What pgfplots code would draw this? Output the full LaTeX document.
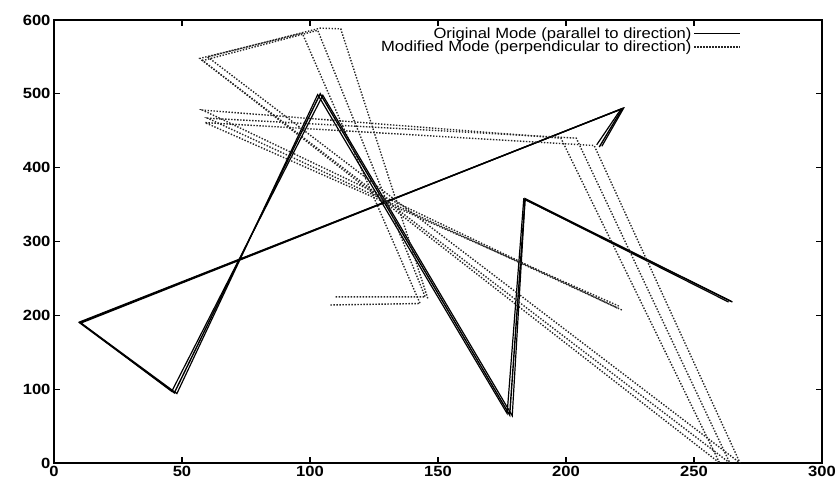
\documentclass[border=0pt]{standalone}
\usepackage{pgfplots}
\pgfplotsset{compat=1.18}
\usepackage{fontspec}
\setmainfont{Liberation Sans}[FakeStretch=1.12]
\begin{document}
\begin{tikzpicture}
\begin{axis}[
  scale only axis, width=768pt, height=443pt,
  xmin=0, xmax=300, ymin=0, ymax=600,
  xtick={0,50,...,300}, ytick={0,100,...,600},
  tick align=inside, major tick length=6pt,
  axis line style={line width=1.2pt},
  tick style={line width=1.2pt, black},
  /pgf/number format/assume math mode=true,
  ticklabel style={font=\fontsize{14.8}{16}\selectfont\bfseries},
  legend plot pos=right, legend cell align=right,
  legend style={at={(0.896,0.99)}, anchor=north east, draw=none, fill=none,
    font=\fontsize{14.8}{15}\selectfont, row sep=-3pt, inner sep=1pt},
  legend image code/.code={\draw[#1] (0pt,0pt) -- (46pt,0pt);},
]
% Original mode (solid), several overlapping runs
\addplot[black, line width=1.4pt] coordinates {
 (213,428) (222,480) (10,190) (47,95) (104,500) (178,65) (184,358) (265,218)};
\addlegendentry{Original Mode (parallel to direction)}
% Modified mode (dotted)
\addplot[black!85, line width=1.4pt, dash pattern=on 1.4pt off 1.6pt] coordinates {
 (108,214) (143,216) (97,582) (57,548) (260,0) (198,440) (58,478) (220,210)};
\addlegendentry{Modified Mode (perpendicular to direction)}
\addplot[black, line width=1.2pt, forget plot] coordinates {
 (214,429) (222.5,480.5) (10,191) (48,94) (103,499) (177,67) (183.5,357.5) (264.5,219)};
\addplot[black, line width=1.2pt, forget plot] coordinates {
 (212,431) (221.5,479.5) (10.5,189.5) (46,97) (105,498) (179,64) (184,357) (263.5,218)};
\addplot[black!85, line width=1.4pt, dash pattern=on 1.4pt off 1.6pt, forget plot] coordinates {
 (110,225) (145,225) (103,586) (58,545) (264,0) (204,440) (60,467) (222,207)};
\addplot[black!85, line width=1.4pt, dash pattern=on 1.4pt off 1.6pt, forget plot] coordinates {
 (146,223) (112,588) (104,589) (60,550) (268,0) (211,430) (59,461) (221,212)};
\end{axis}
\pgfresetboundingbox
\path[use as bounding box] ([xshift=-54pt,yshift=-20pt]current axis.south west) rectangle ([xshift=15pt,yshift=20pt]current axis.north east);
\end{tikzpicture}
\end{document}
